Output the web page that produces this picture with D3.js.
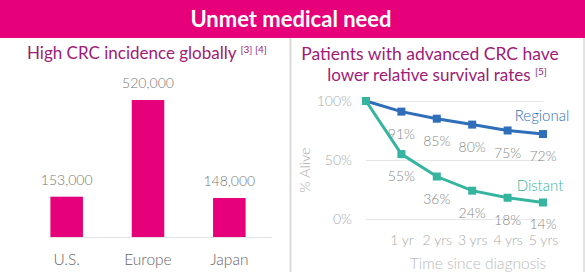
<!DOCTYPE html>
<html>
<head>
<meta charset="utf-8">
<script src="https://cdn.jsdelivr.net/npm/d3@7"></script>
<style>
  body { margin: 0; background: #fff; }
  svg { display: block; font-family: Lato, "Open Sans", sans-serif; }
</style>
</head>
<body>
<script>
var W = 585, H = 272;
var pink = '#e6007a';
var titleColor = '#a01a78';

// incidence data
var countries = ['U.S.', 'Europe', 'Japan'];
var incidence = [153000, 520000, 148000];

// survival data
var years = [0, 1, 2, 3, 4, 5];
var yearLabels = ['', '1 yr', '2 yrs', '3 yrs', '4 yrs', '5 yrs'];
var regional = [100, 91, 85, 80, 75, 72];
var distant = [100, 55, 36, 24, 18, 14];
var yTicks = [0, 50, 100];

var svg = d3.select('body')
    .append('svg')
    .attr('width', W)
    .attr('height', H);

// header
svg.append('rect')
    .attr('x', 0).attr('y', 0)
    .attr('width', W).attr('height', 38)
    .attr('fill', pink);
svg.append('text')
    .attr('x', 291).attr('y', 27)
    .attr('text-anchor', 'middle')
    .attr('fill', '#fff')
    .attr('font-weight', 'bold')
    .attr('font-size', 22)
    .text('Unmet medical need');

// panel borders
svg.append('line')
    .attr('x1', 290.5).attr('x2', 290.5)
    .attr('y1', 38).attr('y2', H)
    .attr('stroke', '#d9d9d9').attr('stroke-width', 2);
svg.append('line')
    .attr('x1', 584).attr('x2', 584)
    .attr('y1', 38).attr('y2', H)
    .attr('stroke', '#d9d9d9').attr('stroke-width', 1.5);

// ---------- left: bar chart ----------
var lt = svg.append('text')
    .attr('x', 27).attr('y', 59)
    .attr('fill', titleColor)
    .attr('font-size', 17);
lt.append('tspan').text('High CRC incidence globally ');
lt.append('tspan').attr('font-size', 10).attr('dy', -6).text('[3] [4]');

var x = d3.scaleBand()
    .domain(countries)
    .range([26, 270])
    .paddingInner(0.6)
    .paddingOuter(0.3);

var y = d3.scaleLinear()
    .domain([0, 520000])
    .range([237, 100]);

svg.append('line')
    .attr('x1', 50).attr('x2', 272)
    .attr('y1', 237.5).attr('y2', 237.5)
    .attr('stroke', '#e3e3e3');

svg.selectAll('rect.bar')
    .data(incidence)
    .enter()
    .append('rect')
    .attr('class', 'bar')
    .attr('x', function (d, i) { return x(countries[i]); })
    .attr('y', function (d) { return y(d); })
    .attr('width', x.bandwidth())
    .attr('height', function (d) { return y(0) - y(d); })
    .attr('fill', pink);

svg.selectAll('text.val')
    .data(incidence)
    .enter()
    .append('text')
    .attr('class', 'val')
    .attr('x', function (d, i) { return x(countries[i]) + x.bandwidth() / 2; })
    .attr('y', function (d) { return y(d) - 12; })
    .attr('text-anchor', 'middle')
    .attr('fill', '#777')
    .attr('font-weight', 300)
    .attr('font-size', 14)
    .text(d3.format(','));

var xAxis = svg.append('g')
    .attr('transform', 'translate(0,237)')
    .call(d3.axisBottom(x).tickSize(0).tickPadding(17));
xAxis.select('.domain').remove();
xAxis.selectAll('text')
    .attr('fill', '#666')
    .attr('font-weight', 300)
    .attr('font-size', 15.5)
    .attr('font-family', 'Lato, sans-serif');

// ---------- right: line chart ----------
svg.append('text')
    .attr('fill', titleColor)
    .attr('font-size', 17.5)
    .attr('x', 430).attr('y', 60)
    .attr('text-anchor', 'middle')
    .text('Patients with advanced CRC have');
var rt2 = svg.append('text')
    .attr('fill', titleColor)
    .attr('font-size', 17)
    .attr('x', 437).attr('y', 81)
    .attr('text-anchor', 'middle');
rt2.append('tspan').text('lower relative survival rates ');
rt2.append('tspan').attr('font-size', 10).attr('dy', -6).text('[5]');

var sx = d3.scaleLinear().domain([0, 5]).range([366, 543]);
var sy = d3.scaleLinear().domain([0, 100]).range([219, 101]);

var yAxis = svg.append('g')
    .attr('transform', 'translate(366,0)')
    .call(d3.axisLeft(sy)
        .tickValues(yTicks)
        .tickSize(-177)
        .tickPadding(14)
        .tickFormat(function (d) { return d + '%'; }));
yAxis.select('.domain').remove();
yAxis.selectAll('line').attr('stroke', '#e6e6e6');
yAxis.selectAll('text')
    .attr('fill', '#aaa')
    .attr('font-weight', 300)
    .attr('font-size', 14)
    .attr('font-family', 'Lato, sans-serif');

svg.append('text')
    .attr('transform', 'translate(310,170) rotate(-90)')
    .attr('text-anchor', 'middle')
    .attr('fill', '#aaa')
    .attr('font-weight', 300)
    .attr('font-size', 14.5)
    .text('% Alive');

var xAxis2 = svg.append('g')
    .attr('transform', 'translate(0,219)')
    .call(d3.axisBottom(sx)
        .tickValues(years.slice(1))
        .tickSize(0)
        .tickPadding(16)
        .tickFormat(function (d) { return yearLabels[d]; }));
xAxis2.select('.domain').remove();
xAxis2.selectAll('text')
    .attr('fill', '#aaa')
    .attr('font-weight', 300)
    .attr('font-size', 14)
    .attr('font-family', 'Lato, sans-serif');

svg.append('text')
    .attr('x', 478).attr('y', 269)
    .attr('text-anchor', 'middle')
    .attr('fill', '#bbb')
    .attr('font-weight', 300)
    .attr('font-size', 15.5)
    .text('Time since diagnosis');

var line = d3.line()
    .x(function (d, i) { return sx(years[i]); })
    .y(function (d) { return sy(d); });

var series = [
    { name: 'Regional', values: regional, color: '#2f6fba', lx: 542, ly: 121 },
    { name: 'Distant', values: distant, color: '#35b59f', lx: 540, ly: 191 }
];

series.forEach(function (s) {
    svg.append('path')
        .datum(s.values)
        .attr('d', line)
        .attr('fill', 'none')
        .attr('stroke', s.color)
        .attr('stroke-width', 3);
    svg.selectAll(null)
        .data(s.values)
        .enter()
        .append('rect')
        .attr('x', function (d, i) { return sx(years[i]) - 4; })
        .attr('y', function (d) { return sy(d) - 4; })
        .attr('width', 8)
        .attr('height', 8)
        .attr('fill', s.color);
    svg.selectAll(null)
        .data(s.values.slice(1))
        .enter()
        .append('text')
        .attr('x', function (d, i) { return sx(years[i + 1]); })
        .attr('y', function (d) { return sy(d) + 27; })
        .attr('text-anchor', 'middle')
        .attr('fill', '#888')
        .attr('font-weight', 300)
        .attr('font-size', 14)
        .text(function (d) { return d + '%'; });
    svg.append('text')
        .attr('x', s.lx).attr('y', s.ly)
        .attr('text-anchor', 'middle')
        .attr('fill', s.color)
        .attr('font-weight', 300)
        .attr('font-size', 15)
        .text(s.name);
});
</script>
</body>
</html>
